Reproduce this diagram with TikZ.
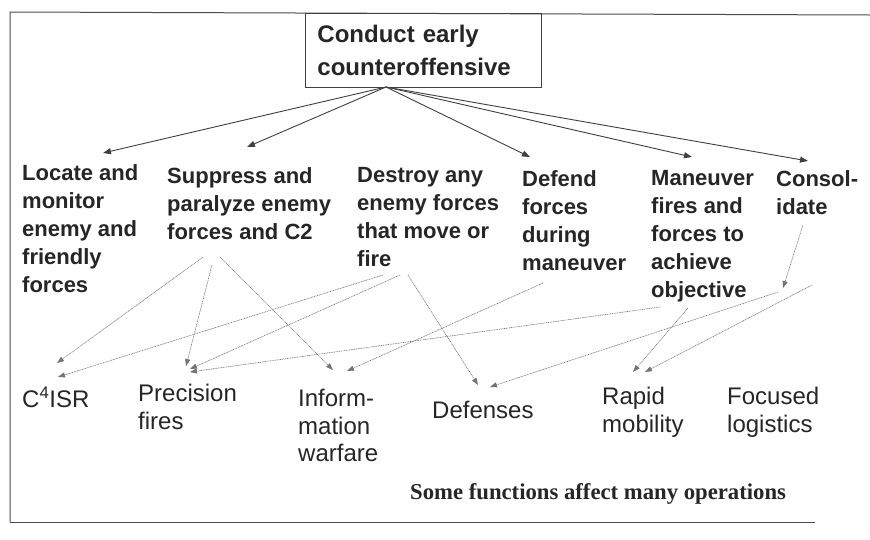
\documentclass[tikz,border=0pt]{standalone}
\usepackage{fontspec}
\setmainfont{Liberation Sans}
\newfontfamily\capfont{Liberation Serif}
\usetikzlibrary{arrows.meta}
\begin{document}
\begin{tikzpicture}[x=1pt,y=-1pt,
  midlab/.style={anchor=north west,inner sep=0pt,align=left,font=\fontsize{22}{28}\selectfont\bfseries,text=black!85},
  botlab/.style={anchor=north west,inner sep=0pt,align=left,font=\fontsize{24}{27.5}\selectfont,text=black!85},
  frame/.style={draw=black!70,line width=1pt},
  toparrow/.style={draw=black!75,line width=0.9pt,-{Triangle[length=8pt,width=6pt]}},
  dotarrow/.style={draw=black!55,line width=0.6pt,dash pattern=on 1pt off 0.7pt,-{Triangle[length=7pt,width=5pt]}},
]
\useasboundingbox (0,0) rectangle (870,539);
\fill[white] (0,0) rectangle (870,539);
% frame
\draw[frame] (10,522) -- (10,12) -- (870,15);
\draw[frame] (10,522) -- (815,522);
% top box
\node[draw=black!75,line width=0.9pt,anchor=north west,minimum width=236pt,minimum height=74pt,
  inner xsep=12pt,text width=212pt,align=left,font=\fontsize{24}{33}\selectfont\bfseries,text=black!85]
  (top) at (305,13) {Conduct early\\counteroffensive};
% middle labels
\node[midlab] (loc) at (22,164) {Locate and\\monitor\\enemy and\\friendly\\forces};
\node[midlab] (sup) at (167,167) {Suppress and\\paralyze enemy\\forces and C2};
\node[midlab] (des) at (357,167) {Destroy any\\enemy forces\\that move or\\fire};
\node[midlab] (def) at (522,170) {Defend\\forces\\during\\maneuver};
\node[midlab] (man) at (651,170) {Maneuver\\fires and\\forces to\\achieve\\objective};
\node[midlab] (con) at (776,170) {Consol-\\idate};
% bottom labels
\node[botlab] (c4) at (22,387) {C\textsuperscript{4}ISR};
\node[botlab] (pf) at (138,384) {Precision\\fires};
\node[botlab] (iw) at (298,389) {Inform-\\mation\\warfare};
\node[botlab] (dfs) at (432,401) {Defenses};
\node[botlab] (rm) at (602,387) {Rapid\\mobility};
\node[botlab] (fl) at (727,387) {Focused\\logistics};
\node[anchor=north west,inner sep=0pt,font=\capfont\fontsize{22.7}{26}\selectfont\bfseries,text=black!85]
  (cap) at (410,483) {Some functions affect many operations};
% top connectors
\coordinate (o) at (386,87);
\coordinate (tloc) at (103,153);
\coordinate (tsup) at (247,147);
\coordinate (tdef) at (530,157);
\coordinate (tman) at (692,157);
\coordinate (tcon) at (808,161);
\draw[toparrow] (o) -- (tloc);
\draw[toparrow] (o) -- (tsup);
\draw[toparrow] (o) -- (tdef);
\draw[toparrow] (o) -- (tman);
\draw[toparrow] (o) -- (tcon);
% lower connector points
\coordinate (s1) at (203,257);
\coordinate (s2) at (212,265);
\coordinate (s3) at (220,257);
\coordinate (d1) at (383,275);
\coordinate (d2) at (400,275);
\coordinate (d3) at (408,275);
\coordinate (df) at (543,283);
\coordinate (m1) at (660,307);
\coordinate (m2) at (688,308);
\coordinate (k1) at (803,225);
\coordinate (k1e) at (783,288);
\coordinate (k2) at (778,292);
\coordinate (k3) at (812,285);
\coordinate (c1) at (57,363);
\coordinate (c2) at (58,377);
\coordinate (p1) at (186,366);
\coordinate (p2) at (190,369);
\coordinate (p3) at (190,372);
\coordinate (i1) at (333,370);
\coordinate (i2) at (347,371);
\coordinate (f1) at (478,385);
\coordinate (f2) at (490,387);
\coordinate (r1) at (633,372);
\coordinate (r2) at (645,372);
\draw[dotarrow] (s1) -- (c1);
\draw[dotarrow] (s2) -- (p1);
\draw[dotarrow] (s3) -- (i1);
\draw[dotarrow] (d1) -- (c2);
\draw[dotarrow] (d2) -- (p2);
\draw[dotarrow] (d3) -- (f1);
\draw[dotarrow] (df) -- (i2);
\draw[dotarrow] (m1) -- (p3);
\draw[dotarrow] (m2) -- (r1);
\draw[dotarrow] (k1) -- (k1e);
\draw[dotarrow] (k2) -- (f2);
\draw[dotarrow] (k3) -- (r2);
\end{tikzpicture}
\end{document}
